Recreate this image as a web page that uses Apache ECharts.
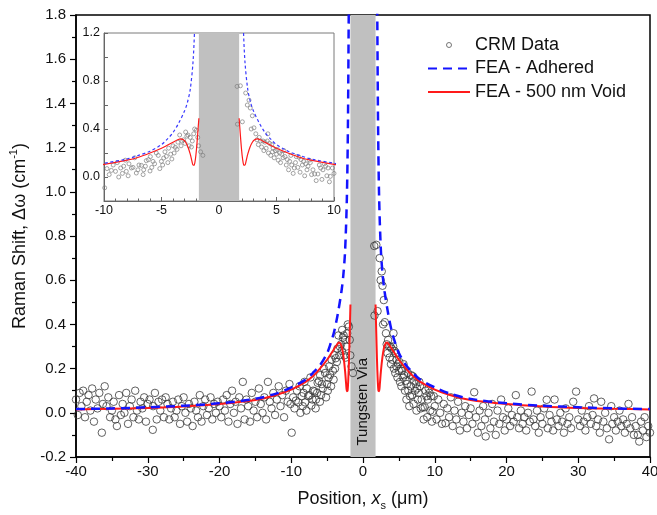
<!DOCTYPE html>
<html><head><meta charset="utf-8">
<script src="https://cdn.jsdelivr.net/npm/echarts@6/dist/echarts.min.js"></script>
<style>html,body{margin:0;padding:0;background:#fff}#c{width:657px;height:515px}</style>
</head><body><div id="c"></div>
<script>
// ---- data ----
const crmData = [
[-40,0.06],[-39.75,-0.01],[-39.5,0.09],[-39.25,0.03],[-39,0.10],[-38.75,-0.02],[-38.5,0.05],[-38.25,0.08],[-38,0.01],[-37.75,0.11],[-37.5,-0.04],[-37.25,0.06],[-37,0.02],[-36.75,0.09],[-36.4,-0.09],[-36.25,0.04],[-36,0.12],[-35.75,0.03],[-35.5,0.07],[-35.25,-0.02],[-35,0.01],[-34.75,0.05],[-34.5,-0.03],[-34.3,-0.06],[-34,0.08],[-33.75,-0.01],[-33.5,0.04],[-33.25,0.00],[-33,0.09],[-32.75,-0.05],[-32.5,0.03],[-32.25,0.06],[-32,-0.02],[-31.75,0.10],[-31.5,0.01],[-31.25,-0.03],[-31,0.05],[-30.75,0.02],[-30.5,0.07],[-30.25,-0.04],[-30,0.04],[-29.75,0.06],[-29.3,-0.077],[-29.25,0.03],[-29,0.09],[-28.75,-0.03],[-28.5,0.05],[-28.25,0.01],[-28,0.06],[-27.75,-0.02],[-27.5,0.07],[-27.25,0.04],[-27,-0.03],[-26.75,0.02],[-26.5,0.05],[-26.25,-0.02],[-26,0.01],[-25.75,0.06],[-25.5,-0.05],[-25.25,0.03],[-25,0.07],[-24.75,0.00],[-24.5,-0.04],[-24.25,0.04],[-24,0.02],[-23.75,-0.06],[-23.5,0.05],[-23.25,0.01],[-23,-0.02],[-22.75,0.08],[-22.5,-0.04],[-22.25,0.03],[-22,0.06],[-21.75,-0.01],[-21.5,0.02],[-21.25,0.07],[-21,-0.03],[-20.75,0.04],[-20.5,0.00],[-20.25,0.05],
[-20,0.03],[-19.75,-0.02],[-19.5,0.06],[-19.25,0.01],[-19,0.08],[-18.75,-0.04],[-18.5,0.04],[-18.25,0.10],[-18,0.00],[-17.75,0.05],[-17.5,-0.05],[-17.25,0.07],[-17,0.02],[-16.75,0.14],[-16.5,-0.03],[-16.25,0.06],[-16,0.03],[-15.75,-0.04],[-15.5,0.09],[-15.25,0.01],[-15,0.05],[-14.75,-0.02],[-14.5,0.11],[-14.25,0.04],[-14,0.00],[-13.75,0.07],[-13.5,-0.03],[-13.25,0.14],[-13,0.05],[-12.75,0.02],[-12.5,0.09],[-12.25,-0.01],[-12,0.06],[-11.75,0.12],[-11.5,0.03],[-11.25,0.08],[-11,-0.02],[-10.75,0.10],[-10.5,0.05],[-10.25,0.13],[-10.1,0.04],[-9.94,-0.09],
[-9.74,0.07],[-9.55,0.02],[-9.36,0.055],[-9.2,0.10],[-9.0,0.047],[-8.85,0.12],[-8.72,0.0],[-8.55,0.075],[-8.4,0.03],[-8.29,0.09],[-8.15,0.14],[-8.06,0.047],[-7.9,0.01],[-7.83,0.11],[-7.62,0.075],[-7.48,0.08],[-7.33,0.16],[-7.19,0.033],[-7.05,0.06],[-6.96,0.10],[-6.75,0.097],[-6.6,0.02],[-6.55,0.06],[-6.4,0.09],[-6.32,0.136],[-6.14,0.144],[-6.0,0.05],[-5.97,0.17],[-5.85,0.08],[-5.74,0.13],[-5.6,0.11],[-5.45,0.2],[-5.28,0.18],[-5.15,0.07],[-5.01,0.13],[-4.9,0.10],[-4.81,0.158],[-4.7,0.21],[-4.58,0.172],[-4.45,0.12],[-4.38,0.24],[-4.2,0.19],[-4.1,0.15],[-4.0,0.26],[-3.9,0.20],[-3.8,0.247],[-3.65,0.23],[-3.57,0.29],[-3.42,0.35],[-3.3,0.26],[-3.22,0.30],[-3.07,0.31],[-2.95,0.28],[-2.9,0.375],[-2.8,0.34],[-2.7,0.35],[-2.6,0.26],[-2.5,0.33],[-2.4,0.25],[-2.32,0.30],[-2.2,0.36],[-2.12,0.40],[-1.97,0.39],[-1.85,0.33],[-1.77,0.26],[-1.6,0.21],[-1.4,0.18],
[1.57,0.755],[1.6,0.44],[1.86,0.76],[2.03,0.46],[2.32,0.70],[2.46,0.6],[2.61,0.64],[2.72,0.575],[2.8,0.40],[2.9,0.51],[3.04,0.41],[3.2,0.36],[3.3,0.31],[3.42,0.27],[3.5,0.33],[3.62,0.30],[3.7,0.25],[3.83,0.30],[3.9,0.22],[4.0,0.29],[4.1,0.24],[4.2,0.30],[4.25,0.36],[4.3,0.20],[4.4,0.28],[4.5,0.18],[4.58,0.27],[4.65,0.21],[4.7,0.24],[4.8,0.16],[4.9,0.22],[5.0,0.19],[5.07,0.23],[5.15,0.14],[5.28,0.2],[5.35,0.12],[5.45,0.19],[5.57,0.16],[5.65,0.22],[5.74,0.17],[5.85,0.10],[5.94,0.145],[6.05,0.06],[6.14,0.13],[6.25,0.18],[6.32,0.10],[6.45,0.03],[6.55,0.075],[6.65,0.12],[6.72,0.17],[6.85,0.08],[6.96,0.165],[7.05,0.04],[7.13,0.145],[7.25,0.10],[7.36,0.13],[7.45,0.01],[7.54,0.11],[7.65,0.06],[7.74,0.09],[7.85,0.14],[7.94,0.12],[8.05,0.02],[8.17,0.06],[8.32,0.025],[8.45,-0.03],[8.6,0.025],[8.72,0.10],[8.84,0.075],[8.95,-0.02],[9.04,0.06],[9.15,0.11],[9.27,0.09],[9.38,0.01],[9.48,0.075],[9.6,-0.04],[9.68,0.005],[9.86,0.075],
[10,0.03],[10.25,-0.03],[10.5,0.06],[10.75,0.00],[11,-0.05],[11.25,0.04],[11.5,-0.047],[11.75,0.02],[12,-0.02],[12.25,0.07],[12.5,-0.06],[12.75,0.01],[13,-0.03],[13.25,0.05],[13.5,-0.08],[13.75,0.00],[14,-0.04],[14.25,0.03],[14.5,-0.07],[14.75,-0.01],[15,0.02],[15.25,-0.05],[15.5,0.093],[15.75,-0.02],[16,-0.09],[16.25,0.01],[16.5,-0.06],[16.75,0.03],[17,-0.03],[17.1,-0.107],[17.5,0.00],[17.75,-0.07],[18,0.04],[18.25,-0.04],[18.5,-0.10],[18.75,0.01],[19,-0.05],[19.25,0.06],[19.5,-0.02],[19.75,-0.08],
[20,-0.03],[20.25,0.02],[20.5,-0.06],[20.75,-0.01],[21,-0.04],[21.3,0.08],[21.5,-0.02],[21.75,-0.07],[22,0.01],[22.25,-0.05],[22.5,-0.02],[22.75,-0.08],[23,0.00],[23.25,-0.04],[23.5,0.096],[23.75,-0.03],[24,-0.06],[24.25,0.01],[24.5,-0.09],[24.75,-0.02],[25,-0.05],[25.25,0.02],[25.6,0.059],[25.75,-0.07],[26,-0.01],[26.25,-0.04],[26.5,-0.08],[26.7,0.06],[27,-0.03],[27.25,-0.06],[27.5,0.00],[27.75,-0.04],[28,-0.09],[28.25,0.02],[28.5,-0.05],[28.75,-0.02],[29,-0.07],[29.3,0.05],[29.7,0.096],[30,-0.03],[30.25,-0.06],[30.5,0.01],[30.75,-0.04],[31,-0.08],[31.25,-0.02],[31.5,0.03],[31.75,-0.05],[32,-0.01],[32.2,0.065],[32.5,-0.06],[32.75,-0.03],[33,-0.09],[33.2,0.05],[33.5,-0.04],[33.75,0.00],[34,-0.07],[34.3,-0.12],[34.6,0.03],[34.75,-0.05],[35,-0.02],[35.25,-0.08],[35.5,-0.04],[35.75,0.01],[36,-0.06],[36.25,-0.03],[36.5,-0.09],[36.75,-0.05],[37,0.04],[37.25,-0.07],[37.5,-0.02],[37.75,-0.10],[38,-0.06],[38.3,-0.10],[38.5,-0.13],[38.75,-0.04],[39,-0.08],[39.25,-0.02],[39.5,-0.11],[39.75,-0.06],[40,-0.09]
];
const adheredLeft = [[-40,0.017],[-35,0.02],[-30,0.025],[-25,0.032],[-20,0.043],[-15,0.063],[-12,0.088],[-10,0.115],[-8,0.15],[-7,0.18],[-6,0.215],[-5,0.27],[-4.5,0.315],[-4,0.37],[-3.5,0.45],[-3,0.55],[-2.75,0.62],[-2.5,0.73],[-2.25,0.97],[-2.1,1.3],[-2.0,1.75],[-1.95,2.0],[-1.9,2.35],[-1.85,2.8],[-1.8,3.4]];
const adheredRight = [[1.8,3.4],[1.85,2.8],[1.9,2.35],[1.95,2.0],[2.0,1.75],[2.1,1.3],[2.25,0.97],[2.5,0.73],[2.75,0.62],[3,0.55],[3.5,0.45],[4,0.37],[4.5,0.315],[5,0.27],[6,0.215],[7,0.18],[8,0.15],[10,0.115],[12,0.088],[15,0.063],[20,0.043],[25,0.032],[30,0.025],[35,0.02],[40,0.017]];
const voidLeft = [[-40,0.015],[-35,0.018],[-30,0.022],[-25,0.029],[-20,0.04],[-15,0.058],[-12,0.082],[-10,0.105],[-8,0.14],[-7,0.165],[-6,0.2],[-5,0.24],[-4.5,0.265],[-4,0.29],[-3.6,0.31],[-3.35,0.318],[-3.1,0.31],[-2.9,0.29],[-2.7,0.25],[-2.5,0.19],[-2.35,0.13],[-2.25,0.098],[-2.15,0.1],[-2.05,0.15],[-1.95,0.24],[-1.85,0.36],[-1.75,0.49]];
const voidRight = [[1.75,0.49],[1.85,0.36],[1.95,0.24],[2.05,0.15],[2.15,0.1],[2.25,0.098],[2.35,0.13],[2.5,0.19],[2.7,0.25],[2.9,0.29],[3.1,0.31],[3.35,0.318],[3.6,0.31],[4,0.29],[4.5,0.265],[5,0.24],[6,0.2],[7,0.165],[8,0.14],[10,0.105],[12,0.082],[15,0.058],[20,0.04],[25,0.029],[30,0.022],[35,0.018],[40,0.015]];
const viaBand = [-1.75, 1.75];
const viaLabel = 'Tungsten Via';
const legendNames = ['CRM Data', 'FEA - Adhered', 'FEA - 500 nm Void'];
const mainX = {min: -40, max: 40, step: 10};
const mainY = {min: -0.2, max: 1.8, step: 0.2};
const insetX = {min: -10, max: 10, step: 5};
const insetY = {min: -0.2, max: 1.2, step: 0.2, labelled: [0, 0.4, 0.8, 1.2]};

const chart = echarts.init(document.getElementById('c'), null, {renderer: 'canvas'});
const FONT = 'Liberation Sans, Arial, sans-serif';
const BLUE = '#1414ff', RED = '#ff1a1a';

const option = {
  animation: false,
  backgroundColor: '#fff',
  textStyle: {fontFamily: FONT},
  grid: [
    {left: 76, right: 7, top: 15, bottom: 58, show: true, borderColor: '#000', borderWidth: 1.5, outerBoundsMode: 'none'},
    {left: 104, top: 33, width: 230, height: 168, show: true, borderColor: '#7a7a7a', borderWidth: 1, outerBoundsMode: 'none'}
  ],
  legend: {
    orient: 'vertical', left: 427, top: 36, padding: 0, itemWidth: 42, itemHeight: 14, itemGap: 5.5,
    selectedMode: false,
    textStyle: {fontSize: 18, color: '#111', fontFamily: FONT},
    data: [
      {name: legendNames[0], icon: 'path://M0,0M42,14M23.5,7A2.5,2.5,0,1,1,18.5,7A2.5,2.5,0,1,1,23.5,7Z',
       itemStyle: {color: 'rgba(0,0,0,0)', borderColor: '#555', borderWidth: 1}},
      {name: legendNames[1], itemStyle: {opacity: 0}},
      {name: legendNames[2], itemStyle: {opacity: 0}}
    ]
  },
  xAxis: [
    {gridIndex: 0, type: 'value', min: mainX.min, max: mainX.max, interval: mainX.step,
     name: '{a|Position, }{i|x}{s|s}{a| (μm)}', nameLocation: 'middle', nameGap: 30,
     nameTextStyle: {rich: {
       a: {fontSize: 18, color: '#111', fontFamily: FONT, lineHeight: 24},
       i: {fontSize: 18, color: '#111', fontStyle: 'italic', fontFamily: FONT, lineHeight: 24},
       s: {fontSize: 11, color: '#111', fontFamily: FONT, verticalAlign: 'bottom', lineHeight: 24}}},
     axisLine: {show: true, onZero: false, lineStyle: {color: '#000', width: 1.5}},
     axisTick: {show: true, inside: false, length: 6, lineStyle: {color: '#000', width: 1.2}},
     minorTick: {show: true, splitNumber: 2, length: 4, lineStyle: {color: '#000', width: 1.2}},
     axisLabel: {fontSize: 15, color: '#111', margin: 7, fontFamily: FONT},
     splitLine: {show: false}, minorSplitLine: {show: false}},
    {gridIndex: 1, type: 'value', min: insetX.min, max: insetX.max, interval: insetX.step,
     axisLine: {show: true, onZero: false, lineStyle: {color: '#666', width: 1}},
     axisTick: {show: true, inside: true, length: 4, lineStyle: {color: '#666'}},
     minorTick: {show: true, splitNumber: 5, length: 2.5, lineStyle: {color: '#666'}},
     axisLabel: {fontSize: 12.5, color: '#111', margin: 3, fontFamily: FONT},
     splitLine: {show: false}}
  ],
  yAxis: [
    {gridIndex: 0, type: 'value', min: mainY.min, max: mainY.max, interval: mainY.step,
     name: '{a|Raman Shift, Δω (cm}{p|-1}{a|)}', nameLocation: 'middle', nameGap: 44,
     nameTextStyle: {rich: {
       a: {fontSize: 18, color: '#111', fontFamily: FONT, lineHeight: 24},
       p: {fontSize: 11, color: '#111', fontFamily: FONT, verticalAlign: 'top', lineHeight: 24}}},
     axisLine: {show: true, onZero: false, lineStyle: {color: '#000', width: 1.5}},
     axisTick: {show: true, inside: false, length: 6, lineStyle: {color: '#000', width: 1.2}},
     minorTick: {show: true, splitNumber: 2, length: 4, lineStyle: {color: '#000', width: 1.2}},
     axisLabel: {fontSize: 15, color: '#111', margin: 10, fontFamily: FONT, formatter: v => v.toFixed(1)},
     splitLine: {show: false}},
    {gridIndex: 1, type: 'value', min: insetY.min, max: insetY.max, interval: insetY.step,
     axisLine: {show: true, onZero: false, lineStyle: {color: '#666', width: 1}},
     axisTick: {show: true, inside: true, length: 4, lineStyle: {color: '#666'}},
     axisLabel: {fontSize: 12.5, color: '#111', margin: 4, fontFamily: FONT,
       formatter: v => insetY.labelled.some(l => Math.abs(l - v) < 1e-6) ? v.toFixed(1) : ''},
     splitLine: {show: false}}
  ],
  series: [
    // ---- main plot ----
    {name: legendNames[2], type: 'line', xAxisIndex: 0, yAxisIndex: 0, data: voidLeft, smooth: 0.3,
     showSymbol: false, symbol: 'none', z: 4, lineStyle: {color: RED, width: 2}, itemStyle: {color: RED},
     markArea: {silent: true, data: [
       [{xAxis: viaBand[0], itemStyle: {color: '#c0c0c0'}}, {xAxis: viaBand[1]}],
       [{xAxis: viaBand[0], yAxis: -0.2, itemStyle: {color: 'rgba(0,0,0,0)'},
         label: {show: true, position: 'inside', rotate: 90, formatter: viaLabel, fontSize: 15, color: '#111', fontFamily: FONT}},
        {xAxis: viaBand[1], yAxis: 0.3}]
     ]}},
    {name: legendNames[2], type: 'line', xAxisIndex: 0, yAxisIndex: 0, data: voidRight, smooth: 0.3,
     showSymbol: false, symbol: 'none', z: 4, lineStyle: {color: RED, width: 2}, itemStyle: {color: RED}},
    {name: legendNames[1], type: 'line', xAxisIndex: 0, yAxisIndex: 0, data: adheredLeft, smooth: 0.3,
     showSymbol: false, symbol: 'none', z: 5, lineStyle: {color: BLUE, width: 2.5, type: [9, 6]}, itemStyle: {color: BLUE}},
    {name: legendNames[1], type: 'line', xAxisIndex: 0, yAxisIndex: 0, data: adheredRight, smooth: 0.3,
     showSymbol: false, symbol: 'none', z: 5, lineStyle: {color: BLUE, width: 2.5, type: [9, 6]}, itemStyle: {color: BLUE}},
    {name: legendNames[0], type: 'scatter', xAxisIndex: 0, yAxisIndex: 0, data: crmData, symbol: 'circle', symbolSize: 7.5,
     z: 3, itemStyle: {color: 'rgba(0,0,0,0)', borderColor: '#3a3a3a', borderWidth: 1}},
    // ---- inset ----
    {name: 'inset-void-l', type: 'line', xAxisIndex: 1, yAxisIndex: 1, data: voidLeft, smooth: 0.3,
     showSymbol: false, symbol: 'none', z: 4, lineStyle: {color: RED, width: 1.2},
     markArea: {silent: true, data: [[{xAxis: viaBand[0], itemStyle: {color: '#c0c0c0'}}, {xAxis: viaBand[1]}]]}},
    {name: 'inset-void-r', type: 'line', xAxisIndex: 1, yAxisIndex: 1, data: voidRight, smooth: 0.3,
     showSymbol: false, symbol: 'none', z: 4, lineStyle: {color: RED, width: 1.2}},
    {name: 'inset-adh-l', type: 'line', xAxisIndex: 1, yAxisIndex: 1, data: adheredLeft, smooth: 0.3,
     showSymbol: false, symbol: 'none', z: 5, lineStyle: {color: '#3a3aff', width: 1.2, type: [3, 2.5]}},
    {name: 'inset-adh-r', type: 'line', xAxisIndex: 1, yAxisIndex: 1, data: adheredRight, smooth: 0.3,
     showSymbol: false, symbol: 'none', z: 5, lineStyle: {color: '#3a3aff', width: 1.2, type: [3, 2.5]}},
    {name: 'inset-crm', type: 'scatter', xAxisIndex: 1, yAxisIndex: 1, data: crmData, symbol: 'circle', symbolSize: 4,
     z: 3, itemStyle: {color: 'rgba(0,0,0,0)', borderColor: '#808080', borderWidth: 0.9}}
  ]
};
chart.setOption(option);
</script>
</body></html>
